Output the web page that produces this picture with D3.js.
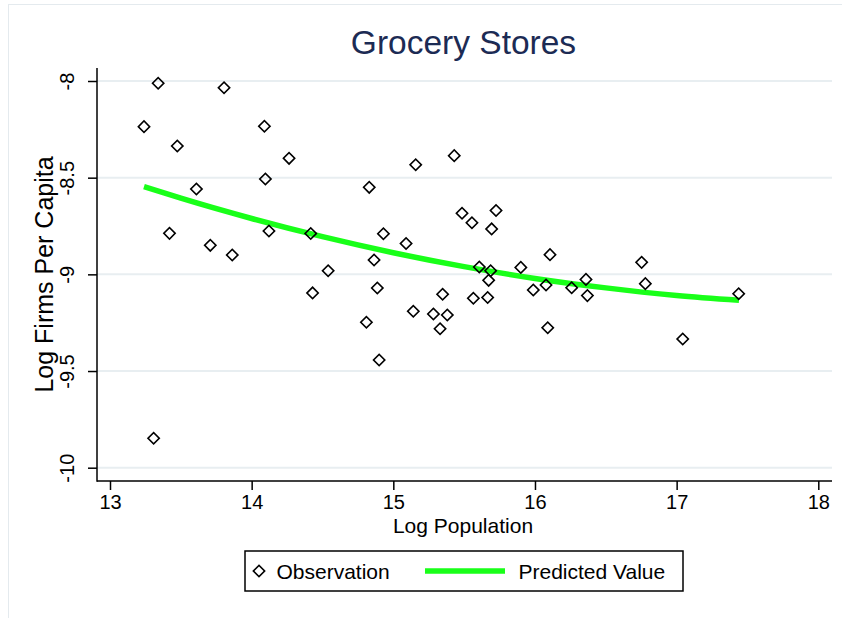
<!DOCTYPE html>
<html>
<head>
<meta charset="utf-8">
<script src="https://cdn.jsdelivr.net/npm/d3@7"></script>
<style>
  html, body { margin: 0; padding: 0; background: #ffffff; }
  svg text { font-family: "Liberation Sans", Arial, Helvetica, sans-serif; }
</style>
</head>
<body>
<svg id="chart" width="842" height="618"></svg>
<script>
// Observations: log population (x) and log firms per capita (y)
const logPopulation = [
  13.34, 13.805, 13.24, 14.09, 13.475, 14.264, 14.097, 13.61, 13.42, 13.708,
  13.863, 14.122, 14.417, 13.308, 14.43, 15.43, 15.158, 14.83, 15.485, 15.555,
  15.725, 15.694, 14.93, 15.09, 14.54, 14.864, 14.887, 15.607, 15.687, 15.673,
  15.90, 15.348, 15.565, 15.666, 15.141, 15.283, 15.381, 15.33, 14.81, 14.90,
  16.106, 15.988, 16.078, 16.259, 16.36, 16.37, 16.753, 16.779, 16.09, 17.043,
  17.438
];
const logFirmsPerCapita = [
  -8.012, -8.035, -8.236, -8.234, -8.336, -8.40, -8.507, -8.559, -8.788, -8.85,
  -8.90, -8.776, -8.789, -9.848, -9.096, -8.386, -8.433, -8.55, -8.684, -8.733,
  -8.67, -8.765, -8.79, -8.84, -8.981, -8.926, -9.071, -8.962, -8.981, -9.031,
  -8.964, -9.103, -9.124, -9.12, -9.191, -9.205, -9.21, -9.281, -9.248, -9.443,
  -8.898, -9.081, -9.055, -9.069, -9.026, -9.11, -8.938, -9.048, -9.276, -9.334,
  -9.10
];

// Fitted (predicted) curve
const predictedX = [13.24, 13.5, 14.0, 14.5, 15.0, 15.5, 16.0, 16.5, 17.0, 17.44];
const predictedY = [-8.546, -8.606, -8.711, -8.805, -8.888, -8.960, -9.021, -9.070, -9.109, -9.134];

// Axis ticks
const xTicks = [13, 14, 15, 16, 17, 18];
const yTicks = [-10, -9.5, -9, -8.5, -8];

const titleText = "Grocery Stores";
const xTitle = "Log Population";
const yTitle = "Log Firms Per Capita";
const legendLabels = ["Observation", "Predicted Value"];

const svg = d3.select("#chart");

// Faint outer frame of the graph region
svg.append("rect")
  .attr("x", 8.5).attr("y", 4.5)
  .attr("width", 840).attr("height", 620)
  .attr("fill", "none")
  .attr("stroke", "#e4eaee")
  .attr("stroke-width", 1);

const x = d3.scaleLinear().domain([13, 18]).range([110, 818.3]);
const y = d3.scaleLinear().domain([-10, -8]).range([467.7, 81]);

const axisLeftX = 97;
const axisBottomY = 481;
const plotTop = 68;
const plotRight = 832;

// Horizontal grid lines
svg.append("g")
  .selectAll("line")
  .data(yTicks)
  .join("line")
  .attr("x1", axisLeftX)
  .attr("x2", plotRight)
  .attr("y1", d => y(d))
  .attr("y2", d => y(d))
  .attr("stroke", "#e8eef1")
  .attr("stroke-width", 2);

// X axis
const xAxis = svg.append("g")
  .attr("transform", `translate(0,${axisBottomY})`)
  .call(d3.axisBottom(x).tickValues(xTicks).tickSize(9).tickPadding(4)
    .tickFormat(d => String(d)));
xAxis.select(".domain").remove();
xAxis.selectAll(".tick line").attr("stroke", "#000").attr("stroke-width", 1.5);
xAxis.selectAll(".tick text")
  .attr("fill", "#000")
  .style("font-size", "20px")
  .attr("y", 0).attr("dy", 0)
  .attr("transform", "translate(0,28)");

// Y axis
const yAxis = svg.append("g")
  .attr("transform", `translate(${axisLeftX},0)`)
  .call(d3.axisLeft(y).tickValues(yTicks).tickSize(9)
    .tickFormat(d => String(d)));
yAxis.select(".domain").remove();
yAxis.selectAll(".tick line").attr("stroke", "#000").attr("stroke-width", 1.5);
yAxis.selectAll(".tick text")
  .attr("fill", "#000")
  .style("font-size", "20px")
  .attr("text-anchor", "middle")
  .attr("x", 0).attr("dy", 0)
  .attr("y", -23)
  .attr("transform", "rotate(-90)");

// Axis lines
svg.append("line")
  .attr("x1", axisLeftX).attr("x2", axisLeftX)
  .attr("y1", plotTop).attr("y2", axisBottomY + 0.75)
  .attr("stroke", "#000").attr("stroke-width", 1.5);
svg.append("line")
  .attr("x1", axisLeftX).attr("x2", plotRight)
  .attr("y1", axisBottomY).attr("y2", axisBottomY)
  .attr("stroke", "#000").attr("stroke-width", 1.5);

// Predicted curve
const fitted = predictedX.map((v, i) => [v, predictedY[i]]);
svg.append("path")
  .datum(fitted)
  .attr("fill", "none")
  .attr("stroke", "#19ff19")
  .attr("stroke-width", 5.5)
  .attr("d", d3.line().x(d => x(d[0])).y(d => y(d[1])).curve(d3.curveMonotoneX));

// Observation markers (hollow diamonds)
const diamond = d3.symbol().type(d3.symbolSquare).size(64)();
const obs = logPopulation.map((v, i) => [v, logFirmsPerCapita[i]]);
svg.append("g")
  .selectAll("path")
  .data(obs)
  .join("path")
  .attr("d", diamond)
  .attr("transform", d => `translate(${x(d[0])},${y(d[1])}) rotate(45)`)
  .attr("fill", "none")
  .attr("stroke", "#000")
  .attr("stroke-width", 1.6);

// Title
svg.append("text")
  .attr("x", 463.5).attr("y", 54)
  .attr("text-anchor", "middle")
  .attr("fill", "#1c2b54")
  .style("font-size", "33.5px")
  .text(titleText);

// Axis titles
svg.append("text")
  .attr("x", 463).attr("y", 533)
  .attr("text-anchor", "middle")
  .attr("fill", "#000")
  .style("font-size", "21px")
  .text(xTitle);

svg.append("text")
  .attr("transform", "translate(52.5,274.5) rotate(-90)")
  .attr("text-anchor", "middle")
  .attr("fill", "#000")
  .style("font-size", "25px")
  .text(yTitle);

// Legend
const legend = svg.append("g");
legend.append("rect")
  .attr("x", 245).attr("y", 551)
  .attr("width", 438).attr("height", 40)
  .attr("fill", "#fff")
  .attr("stroke", "#000")
  .attr("stroke-width", 1.5);
legend.append("path")
  .attr("d", diamond)
  .attr("transform", "translate(259,571) rotate(45)")
  .attr("fill", "none")
  .attr("stroke", "#000")
  .attr("stroke-width", 1.6);
legend.append("text")
  .attr("x", 276.5).attr("y", 578.5)
  .attr("fill", "#000")
  .style("font-size", "21px")
  .text(legendLabels[0]);
legend.append("line")
  .attr("x1", 425).attr("x2", 505)
  .attr("y1", 571).attr("y2", 571)
  .attr("stroke", "#19ff19")
  .attr("stroke-width", 5.5);
legend.append("text")
  .attr("x", 518.5).attr("y", 578.5)
  .attr("fill", "#000")
  .style("font-size", "21px")
  .text(legendLabels[1]);
</script>
</body>
</html>
